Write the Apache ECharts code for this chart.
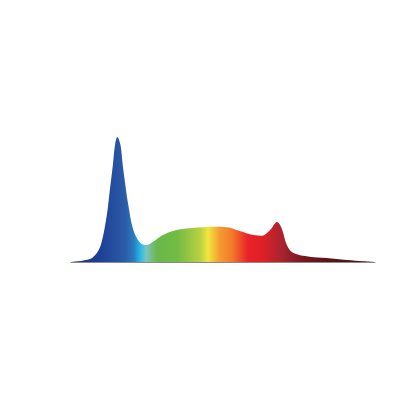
<!DOCTYPE html>
<html>
<head>
<meta charset="utf-8">
<script src="https://cdn.jsdelivr.net/npm/echarts@6/dist/echarts.min.js"></script>
<style>
html,body{margin:0;padding:0;background:#fff;}
#chart{width:416px;height:416px;}
</style>
</head>
<body>
<div id="chart"></div>
<script>
// Wavelength (nm) and relative intensity (%)
var wavelengths = [380,405,414,420,427,431,435,438,441,445,448,451,455,462,471,479,488,501,519,540,567,585,602,620,631,642,651,657,664,672,694,716,743,765,780];
var intensity   = [0,2.4,7.2,15.2,37,57,77,94,100,94,78,64,47,25.6,15.4,13.6,16.2,21.6,25.6,27.2,28.2,27.8,24.8,21.6,21,25.6,32,27.2,13.6,7.4,4.2,3.2,1.6,0.6,0];
var xRange = [380, 780];
var yRange = [0, 100];

var data = wavelengths.map(function (w, i) { return [w, intensity[i]]; });

var chart = echarts.init(document.getElementById('chart'));
chart.setOption({
  backgroundColor: '#ffffff',
  animation: false,
  grid: { left: 71, right: 41, top: 137, bottom: 154 },
  xAxis: {
    type: 'value', min: xRange[0], max: xRange[1],
    axisLine: { show: true, lineStyle: { color: '#8a8a8a', width: 1 } },
    axisTick: { show: false }, axisLabel: { show: false }, splitLine: { show: false }
  },
  yAxis: {
    type: 'value', min: yRange[0], max: yRange[1], show: false,
    splitLine: { show: false }
  },
  series: [{
    type: 'line',
    data: data,
    smooth: 0.35,
    showSymbol: false,
    lineStyle: { width: 0 },
    areaStyle: {
      opacity: 1,
      color: new echarts.graphic.LinearGradient(0, 0, 1, 0, [
        { offset: 0.00, color: '#1a2f80' },
        { offset: 0.095, color: '#1e3f94' },
        { offset: 0.178, color: '#2b5ca8' },
        { offset: 0.207, color: '#2a7cc0' },
        { offset: 0.227, color: '#22b8e8' },
        { offset: 0.247, color: '#7cc4c0' },
        { offset: 0.283, color: '#6ab84a' },
        { offset: 0.349, color: '#72bc44' },
        { offset: 0.424, color: '#b8d040' },
        { offset: 0.451, color: '#f2e640' },
        { offset: 0.490, color: '#f59a30' },
        { offset: 0.530, color: '#f37a2a' },
        { offset: 0.582, color: '#e82228' },
        { offset: 0.628, color: '#e02026' },
        { offset: 0.694, color: '#a82430' },
        { offset: 0.760, color: '#7a1820' },
        { offset: 0.836, color: '#5a1518' },
        { offset: 1.00, color: '#4a1418' }
      ])
    }
  }]
});
</script>
</body>
</html>
